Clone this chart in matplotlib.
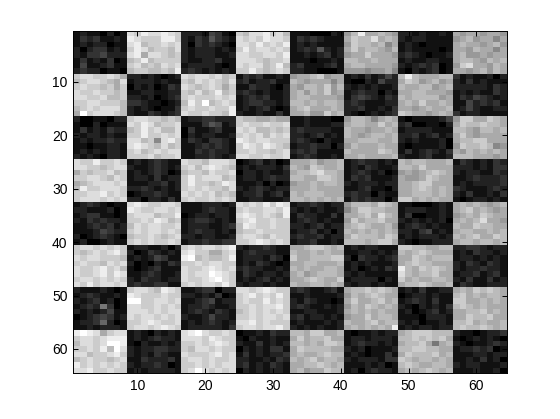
import matplotlib
matplotlib.use("Agg")
import matplotlib.pyplot as plt
import numpy as np

# Grey level of each cell (hex digit, 0 = black, F = white)
rows = [
"1211 0201 DCED DEDC 2221 4310 CBDD ECDB 1110 0021 9BEA ABA9 2212 1121 A9AA 9AA9",
"1323 1121 EDCC CEEC 2132 5321 DCDC EDDC 1323 2111 ACBB DABA 2122 1111 9AB9 AA8A",
"1212 2011 DEBC CDCD 2032 3210 DDCE CDCE 1212 1111 9CBB AB8A 1210 1111 ABAA 9AB9",
"2023 3121 CEDB CCBD 2122 2121 CECD DCDC 1232 5212 ACAB BA9B 1211 1101 AA9B AA8A",
"2133 4222 DEAD DCBC 2122 2112 DDCC DDCE 1121 2312 9AAC AAA9 2321 0112 AB99 A9AA",
"1312 1301 BCEB CCCC 2112 2311 DDDC BCCD 1110 1121 BBAA BAAA 1211 2211 ABBA 9BAB",
"1411 2311 CDBC BDCD 1222 2101 DCDD BCEB 2311 1231 ABBA AAA9 2123 2301 9CDA A9BA",
"2322 0110 BCCB BCBE 2321 2121 CCEC BCDC 2211 0001 9998 99A8 1021 2301 AA9A B9BA",
"CDDC CDCA 2212 1012 DCDD CDBC 1323 1121 9AAB C9AA 1213 1242 BEBA AABB 3121 1202",
"BCDD CBAD 1222 1211 CBDC DCBD 2312 2311 BA9A AA8A 1002 1422 ACB9 AB9A 2131 2111",
"CDCC BCAC 0212 0132 DCBC DCAC 1132 2102 A9BB AC9B 2121 2112 BAAB B9AB 2222 2132",
"DCCD CCBC 1122 1122 CBDB CEBC 2321 2112 AB9B AC9A 1232 2021 AABB AAA9 1212 1132",
"DDCC DBBC 2212 0123 CDCC CDCD 1232 3112 ABBA AAA9 1343 2132 BABB BB9A 1324 3212",
"CCDD CCCB 3321 1012 BECF BCDC 1233 2212 BBAB ABBA 2321 1122 ABAC AABA 1142 3231",
"BCDC DDDB 2121 0113 CDCC DCCE 1212 3101 ABCA AABA 2231 1213 AA9A BAAB 1242 1122",
"AFCD DDCB 2113 2123 DCCD CCBE 2112 1131 AAB9 9CAB 2101 2123 CBAA 9ABA 3122 1111",
"2001 1022 CDDC CBCB 1223 3222 CBBA ABAA 1121 1100 9BBA 8ABA 1011 1124 9CCA ACBA",
"1002 0111 DCED BCCD 1113 5412 CDCC DCCD 1121 1122 ABBA ACAB 2300 1102 ACBB CBBA",
"1312 1322 BCEC DBBD 0311 2311 DCDB BCBC 2322 2211 BAA9 AABA 1222 2111 BBA9 BBAB",
"2122 1211 CCEC CDCD 0212 2112 CDCD BDCD 2212 3121 BA9A BBAB 2231 2312 ACA9 AAAA",
"1212 2322 DDBC 8DEC 1321 3321 EDCD DCCC 2321 0211 AABB BAAB 2121 1120 ABBC CAAA",
"1101 1221 DEDC BDBC 1123 2321 CEDC EDCB 1223 2202 9BAA ABAA 1011 1120 9CBB CB89",
"1212 1221 CDBC DCDD 1132 3221 CCDC CBCD 2323 1111 BAAA ACBA 1312 3213 A9BA BABA",
"2121 0221 CCCD BCCD 1122 3212 DDCC DCCD 1232 1121 AABA AAAB 2112 3112 BBBA AA9A",
"DCCE CCDC 1212 3211 DCCB DDDC 0123 1201 AAAB 9AAB 1232 2121 BABB AAAB 1321 2132",
"DDCC BCDD 2112 3212 CDBD EDCB 1212 2213 BA9C BAAB 1213 2112 BBAC AAAA 2221 2133",
"ACBC CDBC 1212 3201 BCCB DCCD 0221 2112 ABBC DBBA 1232 1201 9A9A BCBA 2122 1132",
"CCDD CBDC 1221 3122 CECD DDBC 1221 2322 BBAA CCBA 1323 1112 A99A CBAA 1123 2223",
"ABCD DDCD 1112 2312 CECC BCED 1112 0201 9AAB ABBA 2122 2122 AABC CAAA 1212 2223",
"BECC DDDC 2232 1212 CDCD CCBD 2123 2122 AAAB AAAA 1123 1102 AABC BABA 3211 1232",
"CCDD ECDC 0122 3211 DCDC DBCB 1223 1231 BABB BAAA 2322 0211 AABB BABA 2131 1213",
"CDDD CDCD 2202 2131 CDCC DCDC 1122 1112 BBAB ABAB 1323 2202 CCAB ABAA 1012 2121",
"1232 1011 DEDC CDDC 1112 2212 DCDC ECED 1223 2122 9BBB ACBA 1100 0121 ABAB A9AB",
"2211 1201 EDCC DDCD 1112 3221 CDCC DDCE 2121 2112 8ACC BBAA 1222 1121 ABCA BA9A",
"1233 1101 CDDD BCCE 0122 1221 DEDC DCBE 1322 1131 AABC ADBA 1300 1121 9ABA CBAA",
"2132 3221 CCDC EDBC 1233 2121 CDEC CDCC 1232 1211 9CAB BCAA 2121 2120 ABAB DAA9",
"1123 2312 BDCD DCCD 1222 1123 BEDC CDCC 2212 3122 ABCB AAB9 1232 1211 BAAC BBAA",
"1112 4322 CDCD DCDC 1232 2121 BCCD CCCC 1223 1202 BABA BABA 2213 4121 ABBA ABAB",
"2012 3210 BCCD CBCD 2212 2112 CDDC BDCC 2322 3122 ACBB BACB 1212 2212 BABC AACB",
"1200 1211 CDCD CCDC 1223 2233 CCDE DCDC 1223 1121 BBBA BCCA 2101 1222 ABBA BBAB",
"CDDC DCDC 1221 1202 CDCD DCDE 2122 3211 AABC CBAB 1212 2111 CCBB AABB 2233 2122",
"CBCD CDEC 2013 2121 DECC AACD 1232 2211 BAAB ABAA 1122 1212 BABC BAAA 1213 2212",
"DCDD CCCB 1212 4311 EFBC BBCE 1222 1320 CAAB BBCC 2032 2123 AACB ABBB 1221 2121",
"CDCC BDCD 2010 2132 CCDC DDCC 1213 2101 AABB AAAB 1212 1112 ABCB BAAA 2132 1321",
"DCCD ECDB 1012 3111 DCCD EDCD 2322 1121 BABA ABBA 1201 2132 EBAC BCBA 2122 3221",
"DCCD ECED 1123 2112 DCDD FEDC 1321 2212 AB9A BBBA 2121 1111 DBAB BCAA 1223 1231",
"CDDC DCDC 2132 2122 DCCD EFDC 1212 3121 AABC BAAC 1222 2021 CABA ABBA 2131 1312",
"DCEC DDCD 2322 3311 CDCD DCEC 2122 1211 BAAB BABA 2122 1211 ABBC BAAB 1321 1222",
"2111 2101 CDDC BEDC 1123 3022 DDCD EDCC 2321 1231 ABBC BCBA 1213 1122 ABAC BCBA",
"1232 1121 EDCC CDCC 2212 1301 CDEC DCEC 1121 1112 9BAB CBAA 0122 1211 BCAB ABBA",
"2123 1201 FFCC DDCD 1123 4122 CDCC ECDC 2132 1101 ACAA BCAB 1232 1311 CCAA BABA",
"1232 7301 DDCC DCDC 1223 2112 CCDC DDEC 2321 1212 9BAC BABA 2102 1213 BCBA BAAA",
"2121 2411 DDDC DCDD 1232 1321 BCDC DCDC 1122 1112 ABAB ABAA 1201 2312 AABB CABA",
"0123 4312 DCDD CDCD 2112 4221 CCDC DDCD 2312 2121 9AAC ABBA 1110 2221 AACB BCAA",
"1223 6201 CCDE DCCD 1212 3212 DDEC DCCC 1211 1212 BAAB CABB 2120 1121 BBCA BAAB",
"1121 2221 CDDC DEDC 1222 2213 CDDC DDEC 2121 2112 ABAB ABAE 1212 2122 BCBB CBAB",
"EFED ACDD 1210 2121 DEFD CCDC 0112 1322 BBAC CAAB 1011 2122 ABCC CBBB 2110 1223",
"CDDC DEEE 1212 3221 DDDC EDCC 1021 1211 ACAB BCAA 1221 2221 BBCB CBCA 1012 1210",
"BDDC DFFE 1021 1212 CCDC DEDC 2113 1212 BBAB ACCB 1232 2121 ABBC A7AB 2101 1232",
"CCDC EBFD 2122 3322 CBDD CDCC 0212 1331 ACBB BBAA 2120 1112 BBCC BBAA 1223 2301",
"DDBC CDEC 2121 3211 DCCC DECD 1312 1223 ABAA BCBB 1210 1131 ACBB BCAB 1112 2122",
"BCDC CBCD 1132 2231 CDDC DCCD 2211 2132 BABC ABBA 2122 2133 CBAB BABA 1121 3120",
"ECDC DCDC 2122 3201 CCDC DCDD 2312 1321 AABB CBAB 1112 1201 BCBA ABBA 2122 1112",
"DDEC CDCC 1212 2221 CDFD CDCD 0212 1221 AB9A ACBB 1202 3221 ABAB CBAB 1112 1120",
]

image = np.array([[int(ch, 16) for ch in r.replace(" ", "")] for r in rows], dtype=float)
x_ticks = [10, 20, 30, 40, 50, 60]
y_ticks = [10, 20, 30, 40, 50, 60]

plt.rcParams['font.family'] = ['Liberation Sans', 'DejaVu Sans']
fig = plt.figure(figsize=(5.6, 4.19), dpi=100)
ax = fig.add_axes([73/560, 1 - 373/419, 434/560, 342/419])
ax.imshow(image, cmap="gray", vmin=0, vmax=15, aspect="auto",
          interpolation="nearest", extent=(0.5, 64.5, 64.5, 0.5))
ax.set_xticks(x_ticks)
ax.set_yticks(y_ticks)
ax.tick_params(direction="in", length=3.5, width=0.7, top=True, right=True,
               labelsize=10, color="black", pad=4)
for s in ax.spines.values():
    s.set_linewidth(0.7)
fig.savefig("out.png", dpi=100)
